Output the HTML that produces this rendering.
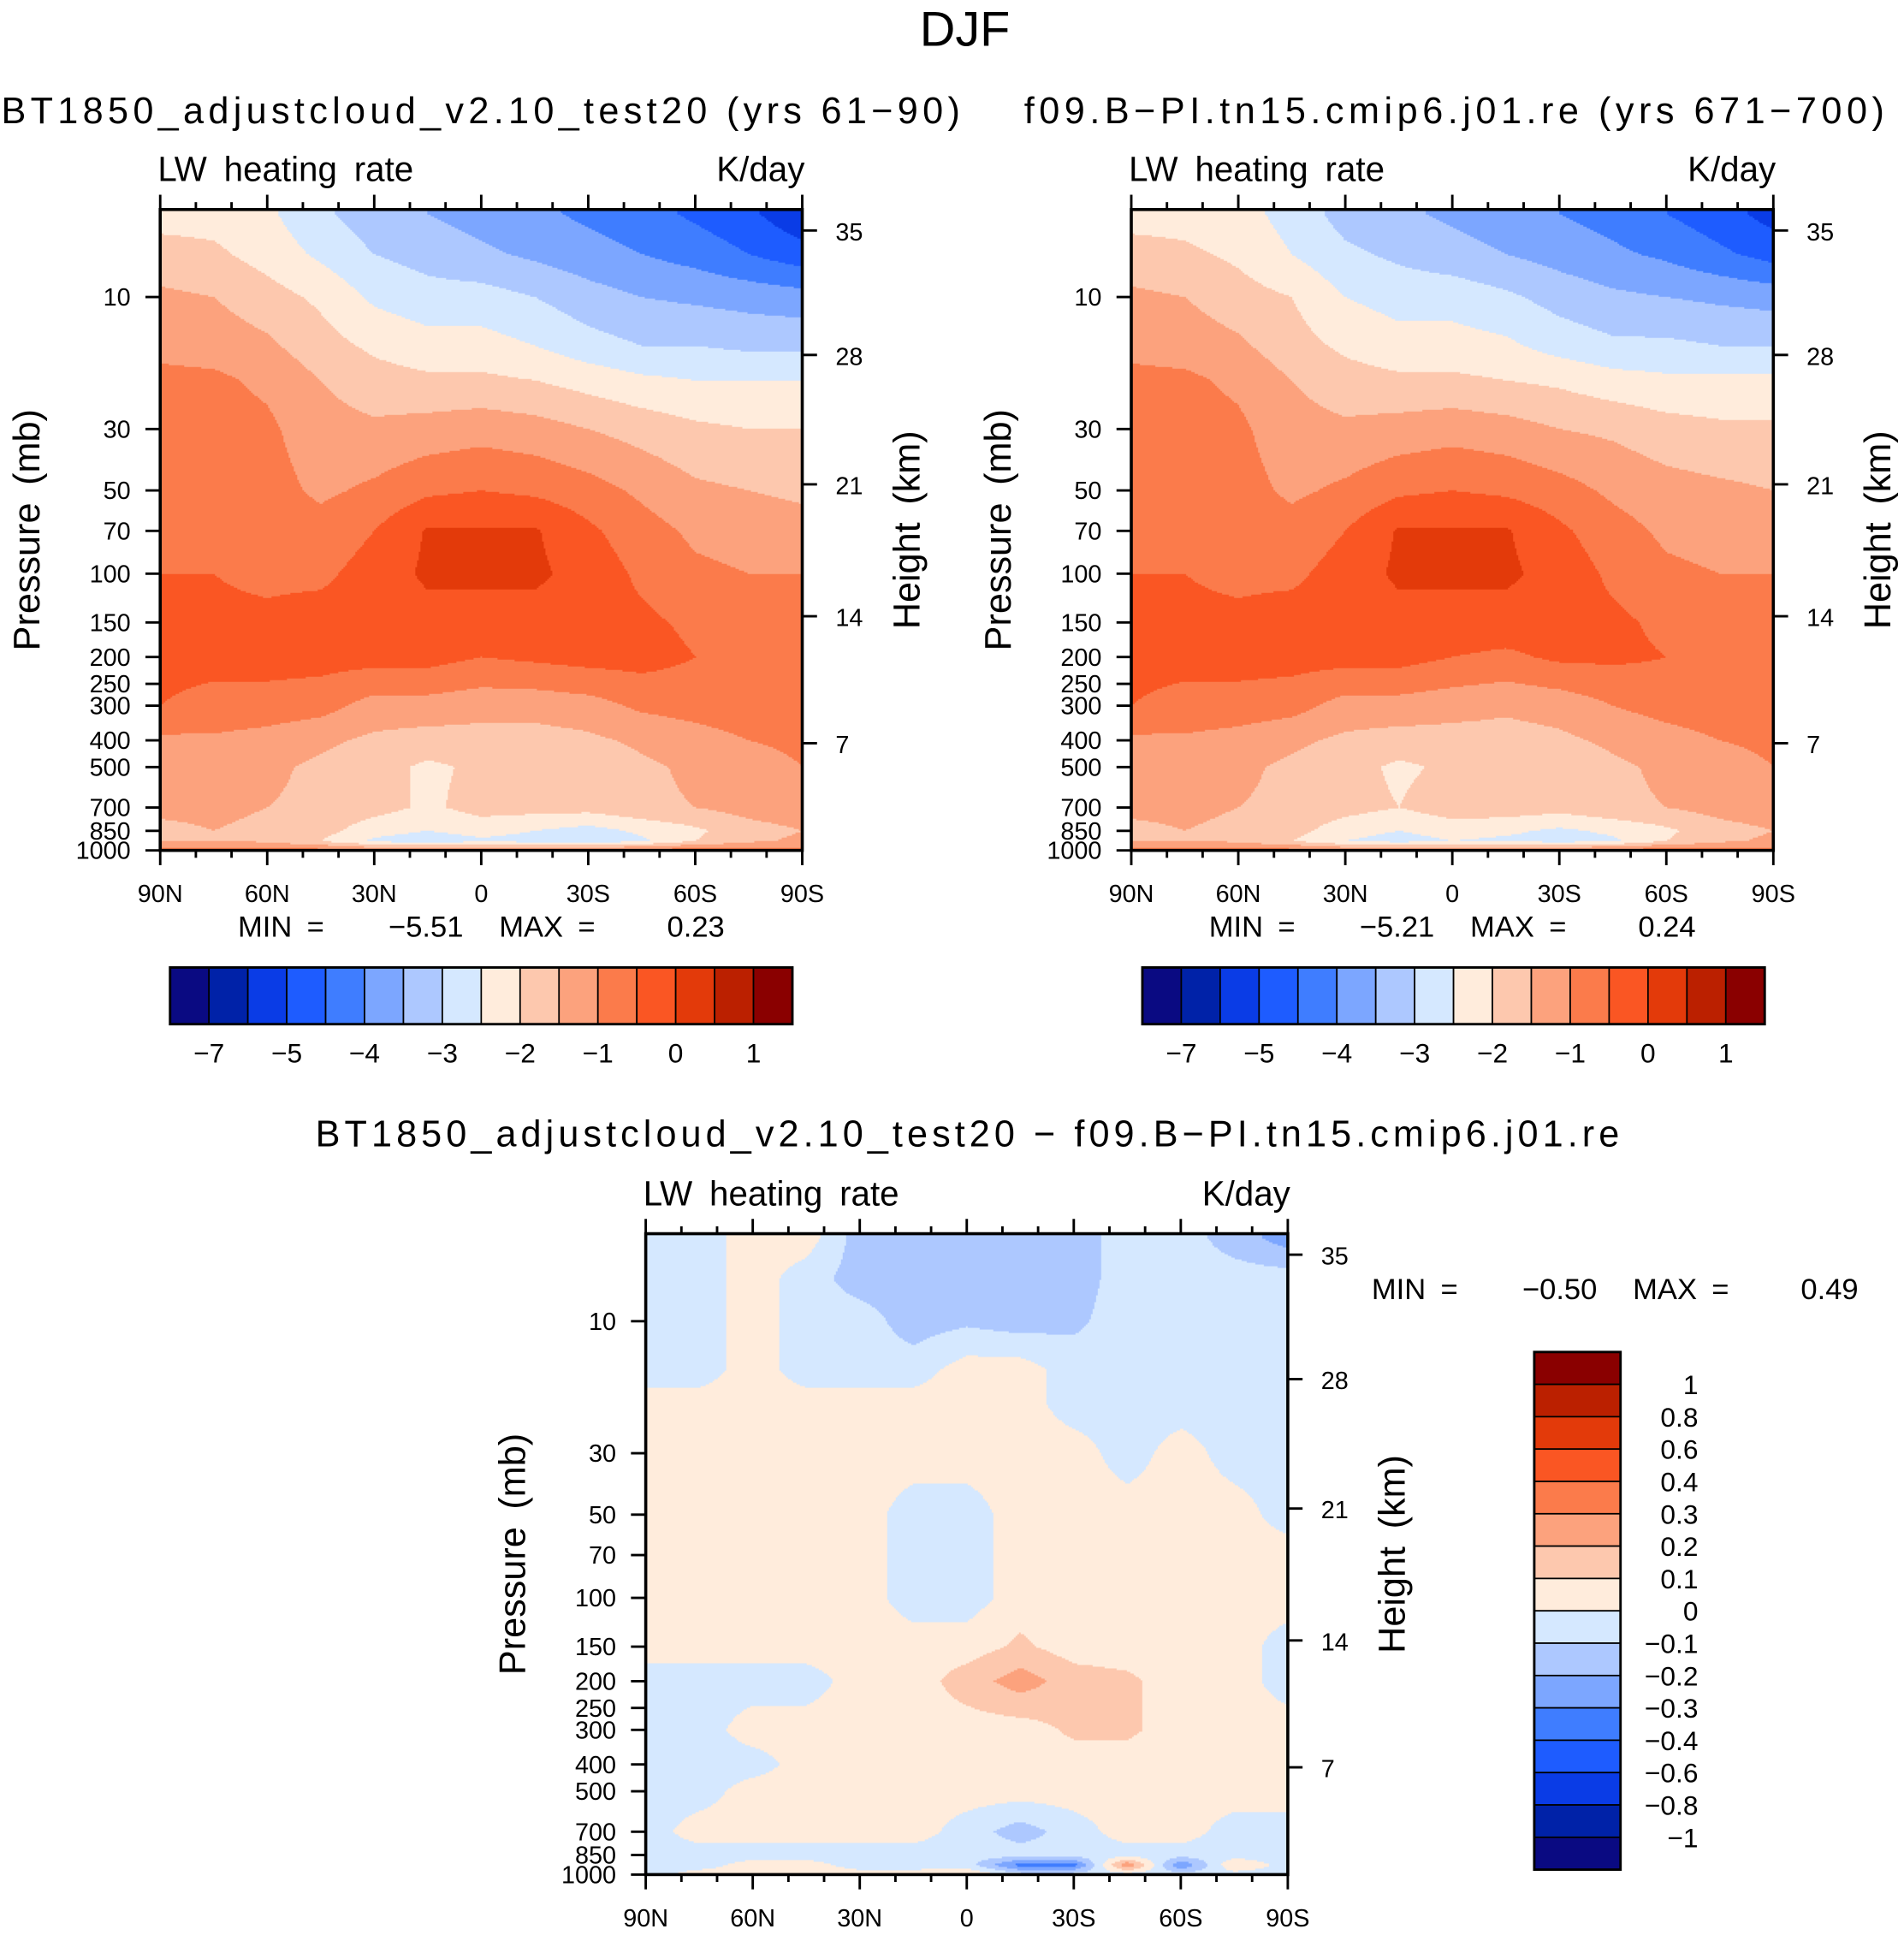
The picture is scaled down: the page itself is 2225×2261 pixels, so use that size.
<!DOCTYPE html>
<html><head><meta charset="utf-8">
<style>
html,body{margin:0;padding:0;background:#fff;width:2225px;height:2261px;overflow:hidden}
#wrap{position:absolute;left:0;top:0;width:1545px;height:1570px;transform:scale(1.4401,1.4401);transform-origin:0 0}
canvas{position:absolute}
svg{position:absolute;left:0;top:0}
text{font-family:"Liberation Sans",sans-serif;fill:#000}
</style></head>
<body>
<div id="wrap">
<canvas id="c1"></canvas>
<canvas id="c2"></canvas>
<canvas id="c3"></canvas>
<svg id="ov" width="1545" height="1570" viewBox="0 0 1545 1570"></svg>
</div>
<script>
// ---------- data ----------
const lats = [90,75,60,45,30,15,0,-15,-30,-45,-60,-75,-90];
const levels = [5,7,10,15,20,30,50,70,100,150,200,300,400,500,700,850,925,1000];
const leftField = [
[-2.2,-2.2,-2.4,-2.9,-3.3,-3.5,-3.7,-3.9,-4.1,-4.3,-4.6,-4.9,-5.4],
[-1.8,-1.9,-2.2,-2.6,-3.0,-3.2,-3.4,-3.6,-3.8,-4.0,-4.2,-4.5,-4.8],
[-1.4,-1.5,-1.8,-2.1,-2.6,-2.8,-2.8,-3.0,-3.3,-3.5,-3.6,-3.7,-3.8],
[-1.1,-1.2,-1.4,-1.8,-2.1,-2.3,-2.3,-2.5,-2.8,-3.0,-3.0,-3.1,-3.1],
[-0.9,-0.9,-1.1,-1.5,-1.8,-1.9,-1.9,-2.0,-2.2,-2.4,-2.5,-2.5,-2.5],
[-0.8,-0.8,-0.9,-1.3,-1.4,-1.3,-1.2,-1.3,-1.5,-1.7,-1.9,-2.0,-2.0],
[-0.6,-0.6,-0.8,-1.1,-0.9,-0.6,-0.5,-0.6,-0.8,-1.1,-1.4,-1.5,-1.6],
[-0.6,-0.6,-0.7,-0.8,-0.5,0.05,0.05,0.05,-0.4,-0.8,-1.1,-1.2,-1.3],
[-0.5,-0.5,-0.6,-0.6,-0.3,0.1,0.1,0.1,-0.2,-0.6,-0.9,-1.0,-1.0],
[-0.4,-0.4,-0.4,-0.3,-0.3,-0.2,-0.2,-0.2,-0.3,-0.4,-0.6,-0.6,-0.7],
[-0.4,-0.4,-0.3,-0.3,-0.3,-0.3,-0.5,-0.4,-0.3,-0.3,-0.5,-0.5,-0.6],
[-0.5,-0.6,-0.7,-0.8,-1.2,-1.2,-1.3,-1.3,-1.2,-0.9,-0.8,-0.7,-0.7],
[-1.1,-1.1,-1.2,-1.4,-1.6,-1.7,-1.7,-1.7,-1.6,-1.4,-1.2,-1.0,-0.9],
[-1.3,-1.3,-1.4,-1.6,-1.8,-2.1,-1.9,-2.0,-1.8,-1.6,-1.4,-1.2,-1.0],
[-1.4,-1.4,-1.5,-1.6,-1.8,-2.1,-1.8,-1.8,-1.8,-1.6,-1.5,-1.3,-1.2],
[-1.6,-1.5,-1.6,-1.8,-2.3,-2.5,-2.3,-2.5,-2.7,-2.4,-2.1,-1.7,-1.5],
[-1.5,-1.5,-1.6,-2.0,-2.6,-2.8,-2.6,-2.7,-2.8,-2.6,-2.0,-1.6,-1.4],
[-0.8,-0.8,-0.8,-0.8,-1.0,-1.0,-1.0,-1.0,-1.0,-0.8,-0.7,-0.8,-0.8]];
const rightField = [
[-2.2,-2.2,-2.3,-2.7,-3.2,-3.4,-3.6,-3.8,-4.0,-4.2,-4.5,-4.8,-5.2],
[-1.8,-1.9,-2.1,-2.5,-2.9,-3.1,-3.3,-3.5,-3.7,-3.9,-4.1,-4.4,-4.7],
[-1.4,-1.5,-1.8,-2.0,-2.5,-2.7,-2.7,-2.9,-3.2,-3.4,-3.5,-3.6,-3.7],
[-1.1,-1.2,-1.4,-1.8,-2.1,-2.3,-2.3,-2.4,-2.7,-2.9,-2.9,-3.0,-3.0],
[-0.9,-0.9,-1.1,-1.5,-1.8,-1.9,-1.9,-2.0,-2.1,-2.3,-2.4,-2.4,-2.4],
[-0.8,-0.8,-0.9,-1.3,-1.4,-1.3,-1.2,-1.3,-1.5,-1.6,-1.8,-1.9,-1.9],
[-0.6,-0.6,-0.8,-1.1,-0.9,-0.6,-0.5,-0.6,-0.8,-1.1,-1.3,-1.4,-1.5],
[-0.6,-0.6,-0.7,-0.8,-0.5,0.05,0.05,0.05,-0.4,-0.8,-1.1,-1.2,-1.3],
[-0.5,-0.5,-0.6,-0.6,-0.3,0.1,0.1,0.1,-0.2,-0.6,-0.9,-1.0,-1.0],
[-0.4,-0.4,-0.4,-0.3,-0.3,-0.2,-0.2,-0.2,-0.3,-0.4,-0.6,-0.6,-0.7],
[-0.4,-0.4,-0.3,-0.3,-0.3,-0.3,-0.5,-0.6,-0.4,-0.4,-0.5,-0.5,-0.6],
[-0.5,-0.6,-0.7,-0.8,-1.2,-1.2,-1.3,-1.4,-1.3,-1.0,-0.8,-0.7,-0.7],
[-1.1,-1.1,-1.2,-1.4,-1.6,-1.7,-1.7,-1.7,-1.6,-1.4,-1.2,-1.0,-0.9],
[-1.3,-1.3,-1.4,-1.6,-1.8,-2.1,-1.9,-2.0,-1.8,-1.6,-1.4,-1.2,-1.0],
[-1.4,-1.4,-1.5,-1.6,-1.8,-2.0,-1.7,-1.7,-1.8,-1.6,-1.5,-1.3,-1.2],
[-1.6,-1.5,-1.6,-1.8,-2.3,-2.5,-2.3,-2.4,-2.6,-2.4,-2.1,-1.7,-1.5],
[-1.5,-1.5,-1.6,-2.0,-2.5,-2.7,-2.5,-2.6,-2.7,-2.6,-2.0,-1.6,-1.4],
[-0.8,-0.8,-0.8,-0.8,-1.0,-1.0,-1.0,-1.0,-1.0,-0.8,-0.7,-0.8,-0.8]];
const diffField = [
[-0.05,-0.05,0.05,0.05,-0.15,-0.15,-0.15,-0.15,-0.15,-0.05,-0.05,-0.15,-0.25],
[-0.05,-0.05,0.05,-0.05,-0.15,-0.15,-0.15,-0.15,-0.15,-0.05,-0.05,-0.05,-0.05],
[-0.05,-0.05,0.05,-0.05,-0.05,-0.15,-0.12,-0.15,-0.12,-0.05,-0.05,-0.05,-0.05],
[-0.05,-0.05,0.05,-0.05,-0.05,-0.05,0.05,0.05,-0.05,-0.05,-0.05,-0.05,-0.05],
[0.05,0.05,0.05,0.05,0.05,0.05,0.05,0.05,-0.05,-0.05,-0.05,-0.05,-0.05],
[0.05,0.05,0.05,0.05,0.05,0.05,0.05,0.05,0.05,-0.05,0.05,-0.05,-0.05],
[0.05,0.05,0.05,0.05,0.05,-0.05,-0.05,0.05,0.05,0.05,0.05,0.05,-0.05],
[0.05,0.05,0.05,0.05,0.05,-0.05,-0.05,0.05,0.05,0.05,0.05,0.05,0.05],
[0.05,0.05,0.05,0.05,0.05,-0.05,-0.05,0.05,0.05,0.05,0.05,0.05,0.05],
[0.05,0.05,0.05,0.05,0.05,0.05,0.05,0.12,0.05,0.05,0.05,0.05,-0.05],
[-0.05,-0.05,-0.05,-0.05,0.05,0.05,0.15,0.25,0.15,0.12,0.05,0.05,-0.05],
[-0.05,-0.05,0.05,0.05,0.05,0.05,0.05,0.05,0.12,0.12,0.05,0.05,0.05],
[-0.05,-0.05,-0.05,0.05,0.05,0.05,0.05,0.05,0.05,0.05,0.05,0.05,0.05],
[-0.05,-0.05,0.05,0.05,0.05,0.05,0.05,0.05,0.05,0.05,0.05,0.05,0.05],
[-0.05,0.05,0.05,0.05,0.05,0.05,-0.05,-0.15,-0.05,0.05,0.05,-0.05,-0.05],
[-0.05,-0.05,-0.05,-0.05,-0.05,-0.05,-0.05,-0.05,-0.05,-0.05,-0.05,-0.05,-0.05],
[-0.05,-0.05,0.05,0.05,-0.05,-0.05,-0.05,-0.35,-0.35,0.3,-0.3,0.1,-0.05],
[-0.05,0.05,0.05,0.05,0.05,0.05,0.1,-0.05,-0.05,-0.05,-0.05,-0.05,-0.05]];
const absLevels = [-7,-6,-5,-4.5,-4,-3.5,-3,-2.5,-2,-1.5,-1,-0.5,0,0.5,1];
const absLabels = ["−7","−5","−4","−3","−2","−1","0","1"];
const diffLevels = [-1,-0.8,-0.6,-0.4,-0.3,-0.2,-0.1,0,0.1,0.2,0.3,0.4,0.6,0.8,1];
const diffLabels = ["1","0.8","0.6","0.4","0.3","0.2","0.1","0","−0.1","−0.2","−0.3","−0.4","−0.6","−0.8","−1"];
const colors = ["#0a0a82","#0022a8","#0a3ce6","#1e5cff","#3f7dff","#7ca6ff","#adc8ff","#d5e8ff","#ffecdc","#fdc8ae","#fca27d","#fb7b4b","#fa5623","#e33a0a","#bb2000","#8a0000"];
const pTicks = [10,30,50,70,100,150,200,250,300,400,500,700,850,1000];
const hTicks = [35,28,21,14,7];
const hTickY = [187,288,393,500,603];
const latTicks = ["90N","60N","30N","0","30S","60S","90S"];

// ---------- axes ----------
const S = 1.4401;
const W = 521, H = 520;
const lpTop = 1 - 71/224.5;
function yOfP(p){ return (Math.log10(p) - lpTop) * 224.5; }
function xOfLat(l){ return (90 - l) / 180 * W; }
function colorFor(v, lv){ let i=0; while(i<lv.length && v>=lv[i]) i++; return colors[i]; }
function sample(field, lat, p){
  let fx = (90 - lat) / 15; let i = Math.min(Math.floor(fx), lats.length-2); let tx = fx - i;
  const lp = Math.log10(p); let j = 0;
  while (j < levels.length-2 && Math.log10(levels[j+1]) < lp) j++;
  const l0=Math.log10(levels[j]), l1=Math.log10(levels[j+1]);
  let ty = Math.max(0, Math.min(1, (lp-l0)/(l1-l0)));
  const a=field[j][i], b=field[j][i+1], c=field[j+1][i], d=field[j+1][i+1];
  return (a*(1-tx)+b*tx)*(1-ty) + (c*(1-tx)+d*tx)*ty;
}
function drawField(id, x0, y0, field, lv){
  const cv = document.getElementById(id);
  cv.style.left = x0+'px'; cv.style.top = y0+'px';
  cv.style.width = W+'px'; cv.style.height = H+'px';
  const pw = Math.round(W*S), ph = Math.round(H*S);
  cv.width = pw; cv.height = ph;
  const ctx = cv.getContext('2d');
  const step = 2;
  for (let py=0; py<ph; py+=step){
    const yy = (py+step/2)/S;
    const p = Math.pow(10, lpTop + yy/224.5);
    for (let px=0; px<pw; px+=step){
      const xx = (px+step/2)/S;
      const lat = 90 - xx/W*180;
      ctx.fillStyle = colorFor(sample(field, lat, p), lv);
      ctx.fillRect(px, py, step, step);
    }
  }
}
drawField('c1',130,170,leftField,absLevels);
drawField('c2',918,170,rightField,absLevels);
drawField('c3',524,1001,diffField,diffLevels);

const NS='http://www.w3.org/2000/svg';
const ov=document.getElementById('ov');
function el(tag, attrs, txt, parent){
  const e=document.createElementNS(NS,tag);
  for(const k in attrs) e.setAttribute(k, attrs[k]);
  if(txt!==undefined) e.textContent=txt;
  (parent||ov).appendChild(e); return e;
}
function txt(x,y,s,size,anchor,name,extra){
  const t=el('text',Object.assign({x:x,y:y,'font-size':size,'text-anchor':anchor||'start'},extra||{}),s);
  
  
  return t;
}
function panel(x0,y0,pfx){
  const g=el('g',{});
  
  
  el('rect',{x:x0,y:y0,width:W,height:H,fill:'none',stroke:'#000','stroke-width':2.5},undefined,g);
  for(let l=90;l>=-90;l-=10){
    const x=x0+xOfLat(l); const maj=(l%30===0);
    const len=maj?12:6;
    el('line',{x1:x,y1:y0,x2:x,y2:y0-len,stroke:'#000','stroke-width':2},undefined,g);
    el('line',{x1:x,y1:y0+H,x2:x,y2:y0+H+len,stroke:'#000','stroke-width':2},undefined,g);
  }
  latTicks.forEach((s,i)=>{ txt(x0+i*W/6, y0+H+42, s, 20, 'middle', pfx+'-lat-label'); });
  pTicks.forEach(p=>{
    const y=y0+yOfP(p);
    el('line',{x1:x0,y1:y,x2:x0-12,y2:y,stroke:'#000','stroke-width':2},undefined,g);
    txt(x0-24, y+7, String(p), 20, 'end', pfx+'-pressure-tick-label');
  });
  hTicks.forEach((h,i)=>{
    const y=y0+hTickY[i]-170;
    el('line',{x1:x0+W,y1:y,x2:x0+W+12,y2:y,stroke:'#000','stroke-width':2},undefined,g);
    txt(x0+W+27, y+8, String(h), 20, 'start', pfx+'-height-tick-label');
  });
  txt(x0-2, y0-23, 'LW heating rate', 28, 'start', pfx+'-variable-label', {'word-spacing':'6'});
  txt(x0+W+2, y0-23, 'K/day', 28, 'end', pfx+'-units-label');
  txt(0,0,'Pressure (mb)',30,'middle',pfx+'-y-axis-title',{transform:`translate(${x0-98},${y0+260}) rotate(-90)`,'word-spacing':'6'});
  txt(0,0,'Height (km)',30,'middle',pfx+'-y2-axis-title',{transform:`translate(${x0+W+95},${y0+260}) rotate(-90)`,'word-spacing':'6'});
}
panel(130,170,'left');
panel(918,170,'right');
panel(524,1001,'diff');

txt(783,37,'DJF',40,'middle','figure-title');
txt(390,100,'BT1850_adjustcloud_v2.10_test20 (yrs 61−90)',30,'middle','left-panel-title',{textLength:778});
txt(1180,100,'f09.B−PI.tn15.cmip6.j01.re (yrs 671−700)',30,'middle','right-panel-title',{textLength:698});
txt(785,930,'BT1850_adjustcloud_v2.10_test20 − f09.B−PI.tn15.cmip6.j01.re',30,'middle','difference-panel-title',{textLength:1058});
function minmax(x,y,mn,mx,pfx){
  txt(x,y,'MIN',24,'start',pfx+'-min-label');
  txt(x+56,y,'=',24,'start',pfx+'-min-eq');
  txt(x+183,y,mn,24,'end',pfx+'-min-value');
  txt(x+212,y,'MAX',24,'start',pfx+'-max-label');
  txt(x+276,y,'=',24,'start',pfx+'-max-eq');
  txt(x+395,y,mx,24,'end',pfx+'-max-value');
}
minmax(193,760,'−5.51','0.23','left');
minmax(981,760,'−5.21','0.24','right');
minmax(1113,1054,'−0.50','0.49','diff');

function hbar(x0,pfx){
  const y0=785,bw=505/16,bh=46;
  colors.forEach((c,i)=>{
    const r=el('rect',{x:x0+i*bw,y:y0,width:bw,height:bh,fill:c,stroke:'#000','stroke-width':1.2});
    
    
  });
  el('rect',{x:x0,y:y0,width:505,height:bh,fill:'none',stroke:'#000','stroke-width':2});
  absLabels.forEach((s,k)=>{ txt(x0+(2*k+1)*bw, 862, s, 22, 'middle', pfx+'-colorbar-label'); });
}
hbar(138,'left');
hbar(927,'right');

(function vbar(){
  const x0=1245,y0=1097,bw=70,bh=420/16;
  colors.slice().reverse().forEach((c,i)=>{
    const r=el('rect',{x:x0,y:y0+i*bh,width:bw,height:bh,fill:c,stroke:'#000','stroke-width':1.2});
    
    
  });
  el('rect',{x:x0,y:y0,width:bw,height:420,fill:'none',stroke:'#000','stroke-width':2});
  diffLabels.forEach((s,k)=>{ txt(1378, y0+(k+1)*bh+8, s, 22, 'end', 'diff-colorbar-label'); });
})();
</script>
</body></html>
